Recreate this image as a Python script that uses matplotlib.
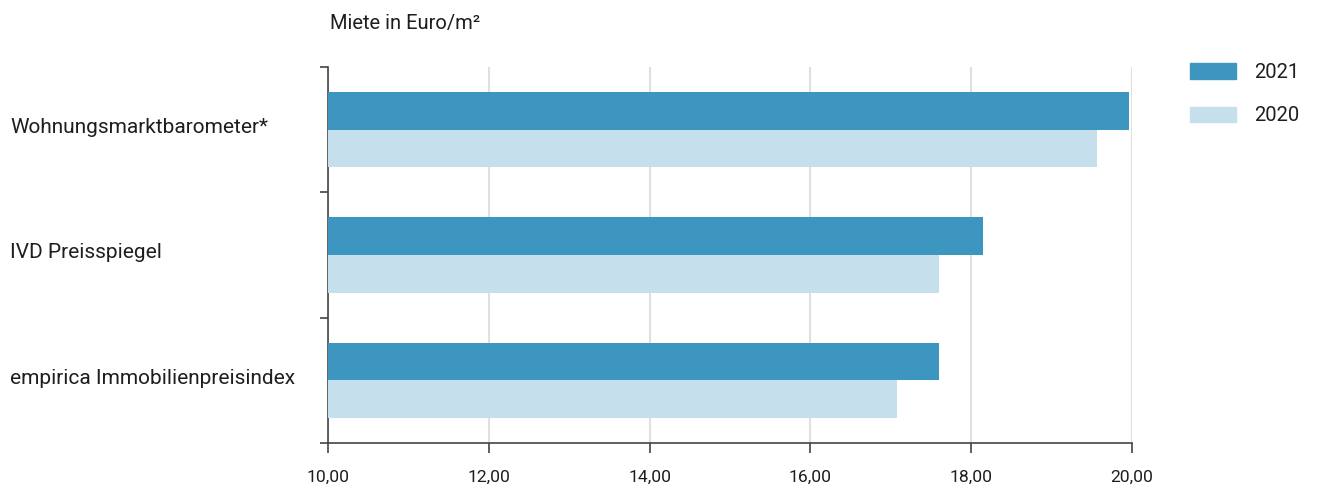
import matplotlib.pyplot as plt
import numpy as np
from matplotlib.patches import Patch
from matplotlib.ticker import FuncFormatter

categories = ["Wohnungsmarktbarometer*", "IVD Preisspiegel", "empirica Immobilienpreisindex"]
years = ["2021", "2020"]
rent_2021 = [19.96, 18.15, 17.60]
rent_2020 = [19.57, 17.60, 17.08]

COL_2021 = "#3d96c0"
COL_2020 = "#c6dfec"
TEXT = "#1e1e1e"

plt.rcParams["font.family"] = ["Roboto", "DejaVu Sans"]

fig = plt.figure(figsize=(13.2, 4.88), dpi=100)
ax = fig.add_axes([0.2485, 0.0922, 0.6091, 0.7705])

y = np.arange(len(categories))
h = 0.30
ax.barh(y - h / 2, np.array(rent_2021) - 10, left=10, height=h, color=COL_2021, zorder=3)
ax.barh(y + h / 2, np.array(rent_2020) - 10, left=10, height=h, color=COL_2020, zorder=3)

ax.set_xlim(10, 20)
ax.set_ylim(2.5, -0.5)
ax.set_xticks(np.arange(10, 21, 2))
ax.xaxis.set_major_formatter(FuncFormatter(lambda v, _: f"{v:.2f}".replace(".", ",")))
ax.set_yticks([-0.5, 0.5, 1.5, 2.5])
ax.set_yticklabels([])

for s in ("top", "right"):
    ax.spines[s].set_visible(False)
for s in ("left", "bottom"):
    ax.spines[s].set_color("#444444")
    ax.spines[s].set_linewidth(1.2)

ax.tick_params(axis="x", length=7, width=1.2, color="#444444", labelsize=12.6,
               labelcolor=TEXT, pad=12)
ax.tick_params(axis="y", length=6, width=1.2, color="#444444")
ax.grid(axis="x", color="#e0e0e0", lw=1.5, zorder=0)

for yi, name in zip(y, categories):
    fig.text(10 / 1320, 1 - (67 + 125.3 * (yi + 0.5) - 2) / 488, name,
             fontsize=15, color=TEXT, ha="left", va="center")

fig.text(330 / 1320, 1 - 24 / 488, "Miete in Euro/m²", fontsize=14.5,
         color=TEXT, ha="left", va="center")

handles = [Patch(color=COL_2021), Patch(color=COL_2020)]
fig.legend(handles, years, loc="upper left", bbox_to_anchor=(1172 / 1320, 1 - 45 / 488),
           frameon=False, fontsize=14.5, handlelength=2.3, handleheight=0.8,
           labelspacing=1.2, handletextpad=0.9, labelcolor=TEXT)

fig.savefig("out.png", dpi=100)
